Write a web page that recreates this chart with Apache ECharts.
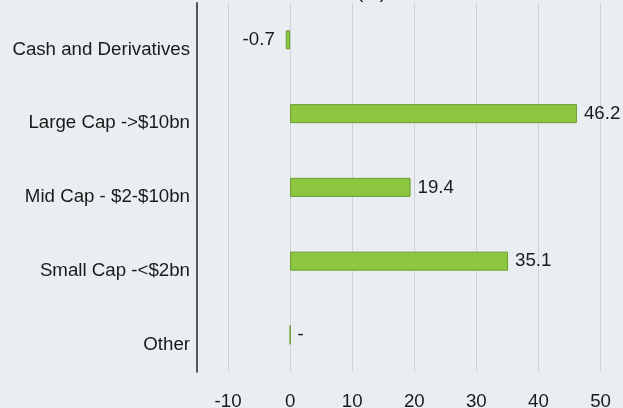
<!DOCTYPE html>
<html>
<head>
<meta charset="utf-8">
<script src="https://cdn.jsdelivr.net/npm/echarts@6/dist/echarts.min.js"></script>
<style>
  html, body { margin: 0; padding: 0; background: #e9eef1; }
  #chart { width: 623px; height: 408px; }
</style>
</head>
<body>
<div id="chart"></div>
<script>
// categories, top to bottom
var categories = ['Cash and Derivatives', 'Large Cap ->$10bn', 'Mid Cap - $2-$10bn', 'Small Cap -<$2bn', 'Other'];
// weights (%)
var weights = [-0.7, 46.2, 19.4, 35.1, 0];
var titleText = '(%)';

var font = 'Liberation Sans, Arial, sans-serif';
var fs = 18.7;

var chart = echarts.init(document.getElementById('chart'));

var barData = weights.map(function (v) {
    return {
        value: v,
        label: v < 0 ? { position: 'left', distance: 11 } : { position: 'right', distance: 7 }
    };
});

var option = {
    backgroundColor: '#e9eef1',
    animation: false,
    title: {
        text: titleText,
        left: 352,
        top: -22,
        textStyle: { fontFamily: font, fontSize: fs, fontWeight: 'normal', color: '#1a1a1a' }
    },
    grid: {
        left: 197,
        top: 3,
        width: 465.6,
        height: 368.75,
        outerBoundsMode: 'none',
        containLabel: false
    },
    xAxis: {
        type: 'value',
        min: -15,
        max: 60,
        minInterval: 10,
        maxInterval: 10,
        axisLine: { show: false },
        axisTick: { show: false },
        axisLabel: {
            showMinLabel: false,
            margin: 21,
            fontFamily: font,
            fontSize: fs,
            color: '#1a1a1a'
        },
        splitLine: { show: true, lineStyle: { color: '#cfd3d6', width: 1 } }
    },
    yAxis: {
        type: 'category',
        inverse: true,
        data: categories,
        axisLine: { show: true, onZero: false, lineStyle: { color: '#555555', width: 2 } },
        axisTick: { show: false },
        axisLabel: {
            margin: 7,
            verticalAlign: 'top',
            fontFamily: font,
            fontSize: fs,
            color: '#1a1a1a'
        }
    },
    series: [{
        type: 'bar',
        data: barData,
        barWidth: 19,
        itemStyle: { color: '#8dc63f', borderColor: '#6c9b2f', borderWidth: 1 },
        label: {
            show: true,
            fontFamily: font,
            fontSize: fs,
            color: '#1a1a1a',
            formatter: function (p) {
                return p.value === 0 ? '-' : String(p.value);
            }
        }
    }]
};

chart.setOption(option);
</script>
</body>
</html>
